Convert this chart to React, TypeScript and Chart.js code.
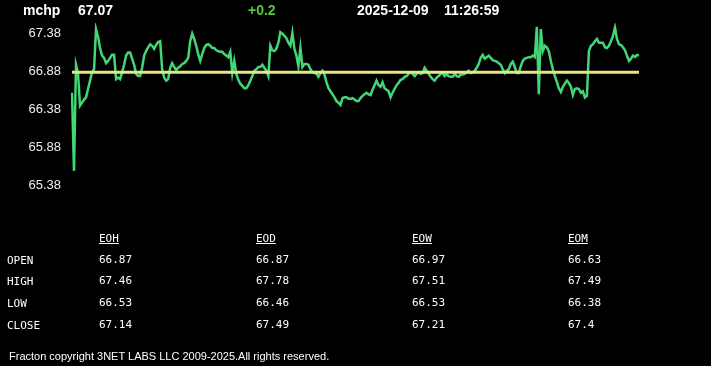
import React, { useEffect, useRef } from "react";
import { Chart, registerables } from "chart.js";

Chart.register(...registerables);

const symbol = "mchp";
const lastPrice = "67.07";
const priceChange = "+0.2";
const dateText = "2025-12-09";
const timeText = "11:26:59";

const yTicks = [65.38, 65.88, 66.38, 66.88, 67.38];
const openLevel = 66.87;

const prices = [
  66.60, 65.57, 66.97, 66.86, 66.43, 66.47, 66.51, 66.54, 66.65, 66.76,
  66.87, 66.91, 67.44, 67.34, 67.19, 67.09, 67.06, 66.99, 67.02, 67.06,
  67.10, 67.10, 66.78, 66.80, 66.78, 66.87, 66.97, 67.09, 67.13, 67.13,
  67.05, 66.97, 66.85, 66.82, 66.82, 66.93, 67.09, 67.15, 67.20, 67.24,
  67.22, 67.18, 67.23, 67.27, 67.28, 66.91, 66.80, 66.76, 66.78, 66.93,
  66.99, 66.94, 66.90, 66.93, 66.95, 66.98, 66.99, 67.02, 67.06, 67.28,
  67.38, 67.31, 67.22, 67.11, 67.02, 67.11, 67.19, 67.23, 67.24, 67.22,
  67.19, 67.19, 67.16, 67.15, 67.14, 67.14, 67.11, 67.09, 67.07, 67.14,
  66.86, 67.02, 66.85, 66.77, 66.72, 66.69, 66.66, 66.66, 66.70, 66.76,
  66.82, 66.89, 66.91, 66.94, 66.94, 66.97, 66.93, 66.89, 66.82, 67.22,
  67.16, 67.15, 67.18, 67.26, 67.40, 67.38, 67.35, 67.32, 67.26, 67.22,
  67.39, 67.18, 67.09, 66.95, 67.19, 66.94, 66.98, 66.98, 66.97, 66.91,
  66.87, 66.86, 66.85, 66.81, 66.86, 66.89, 66.84, 66.74, 66.66, 66.62,
  66.58, 66.54, 66.49, 66.47, 66.44, 66.53, 66.54, 66.54, 66.52, 66.52,
  66.53, 66.51, 66.49, 66.49, 66.53, 66.56, 66.58, 66.60, 66.58, 66.57,
  66.64, 66.70, 66.76, 66.70, 66.68, 66.74, 66.66, 66.64, 66.62, 66.54,
  66.60, 66.65, 66.70, 66.73, 66.77, 66.78, 66.81, 66.82, 66.85, 66.87,
  66.85, 66.82, 66.85, 66.87, 66.85, 66.86, 66.93, 66.89, 66.85, 66.81,
  66.78, 66.76, 66.80, 66.82, 66.85, 66.86, 66.82, 66.84, 66.82, 66.81,
  66.81, 66.85, 66.82, 66.81, 66.84, 66.84, 66.85, 66.87, 66.89, 66.86,
  66.87, 66.89, 66.93, 66.98, 67.06, 67.10, 67.05, 67.07, 67.09, 67.06,
  67.03, 67.02, 67.01, 66.99, 66.97, 66.91, 66.86, 66.89, 66.91, 66.98,
  67.01, 66.94, 66.86, 66.86, 66.95, 67.02, 67.05, 67.06, 67.07, 67.07,
  67.09, 67.07, 67.47, 66.58, 67.44, 67.15, 67.22, 67.20, 67.15, 67.02,
  66.91, 66.82, 66.74, 66.66, 66.61, 66.68, 66.72, 66.76, 66.73, 66.68,
  66.57, 66.65, 66.66, 66.65, 66.60, 66.62, 66.54, 66.56, 67.15, 67.22,
  67.24, 67.28, 67.31, 67.26, 67.26, 67.26, 67.20, 67.19, 67.22, 67.28,
  67.35, 67.46, 67.31, 67.24, 67.23, 67.20, 67.16, 67.09, 67.02, 67.05,
  67.09, 67.07, 67.10, 67.09,
];

const tableColumns = ["EOH", "EOD", "EOW", "EOM"];
const tableRows = ["OPEN", "HIGH", "LOW", "CLOSE"];
const eohValues = ["66.87", "67.46", "66.53", "67.14"];
const eodValues = ["66.87", "67.78", "66.46", "67.49"];
const eowValues = ["66.97", "67.51", "66.53", "67.21"];
const eomValues = ["66.63", "67.49", "66.38", "67.4"];
const copyright = "Fracton copyright 3NET LABS LLC 2009-2025.All rights reserved.";

const W = 711;
const H = 366;
const SANS = "'Liberation Sans', Arial, sans-serif";
const MONO = "'DejaVu Sans Mono', 'Liberation Mono', monospace";

const columnX = [99, 256, 412, 568];
const rowY = [253, 274, 296, 318];

export default function App() {
  const canvasRef = useRef<HTMLCanvasElement | null>(null);

  useEffect(() => {
    document.body.style.margin = "0";
    document.body.style.background = "#000";
    const canvas = canvasRef.current;
    if (!canvas) return;
    const chart = new Chart(canvas, {
      type: "line",
      data: {
        labels: prices.map((_, i) => String(i)),
        datasets: [
          {
            data: prices.map(() => openLevel),
            borderColor: "rgb(230,230,130)",
            borderWidth: 3,
            pointRadius: 0,
            tension: 0,
          },
          {
            data: prices,
            borderColor: "rgb(66,214,118)",
            borderWidth: 2.5,
            pointRadius: 0,
            tension: 0,
          },
        ],
      },
      options: {
        responsive: false,
        maintainAspectRatio: false,
        animation: false,
        events: [],
        layout: { padding: { left: 0, right: W - 639, top: 23, bottom: H - 185.3 } },
        plugins: { legend: { display: false }, tooltip: { enabled: false } },
        scales: {
          x: { display: false },
          y: {
            min: 65.38,
            max: 67.52,
            afterBuildTicks: (scale: any) => {
              scale.ticks = yTicks.map((v) => ({ value: v }));
            },
            afterFit: (scale: any) => {
              scale.width = 72;
            },
            grid: { display: false, drawTicks: false },
            border: { display: false },
            ticks: {
              color: "#eeeeee",
              padding: 11,
              font: { family: SANS, size: 13 },
              callback: (v: any) => Number(v).toFixed(2),
            },
          },
        },
      },
    });
    return () => chart.destroy();
  }, []);

  const columns = [eohValues, eodValues, eowValues, eomValues];
  const abs = (left: number, top: number, extra: any = {}) => ({
    position: "absolute" as const,
    left,
    top,
    lineHeight: 1,
    whiteSpace: "pre" as const,
    ...extra,
  });

  return (
    <div
      style={{
        position: "fixed",
        left: 0,
        top: 0,
        width: W,
        height: H,
        background: "#000",
        overflow: "hidden",
      }}
    >
      <canvas ref={canvasRef} width={W} height={H} style={{ position: "absolute", left: 0, top: 0, width: W, height: H }} />
      <div style={abs(23, 1.5, { font: `bold 14px ${SANS}`, color: "#fff" })}>{symbol}</div>
      <div style={abs(78, 1.5, { font: `bold 14px ${SANS}`, color: "#fff" })}>{lastPrice}</div>
      <div style={abs(248, 1.5, { font: `bold 14px ${SANS}`, color: "rgb(88,200,60)" })}>{priceChange}</div>
      <div style={abs(357, 1.5, { font: `bold 14px ${SANS}`, color: "#fff" })}>{dateText}</div>
      <div style={abs(444, 1.5, { font: `bold 14px ${SANS}`, color: "#fff" })}>{timeText}</div>

      {tableColumns.map((c, ci) => (
        <div
          key={c}
          style={abs(columnX[ci], 232, {
            font: `11px ${MONO}`,
            color: "#fff",
            textDecoration: "underline",
          })}
        >
          {c}
        </div>
      ))}
      {tableRows.map((r, ri) => (
        <div key={r} style={abs(7, rowY[ri] + 1, { font: `11px ${MONO}`, color: "#fff" })}>
          {r}
        </div>
      ))}
      {columns.map((col, ci) =>
        col.map((v, ri) => (
          <div
            key={`${ci}-${ri}`}
            style={abs(columnX[ci], rowY[ri], { font: `11px ${MONO}`, color: "#fff" })}
          >
            {v}
          </div>
        ))
      )}
      <div style={abs(9, 350, { font: `11px ${SANS}`, color: "#fff" })}>{copyright}</div>
    </div>
  );
}
